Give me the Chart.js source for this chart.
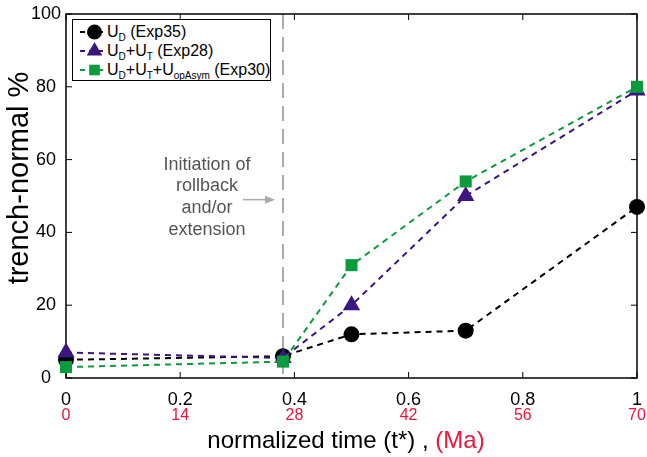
<!DOCTYPE html>
<html>
<head>
<meta charset="utf-8">
<script src="https://cdn.jsdelivr.net/npm/chart.js@4"></script>
<style>
    body { margin: 0; background: #fff; }
    #wrap { position: relative; width: 647px; height: 457px; font-family: "Liberation Sans", Arial, sans-serif; }
    #legend {
        position: absolute; left: 72px; top: 19px; width: 199px; height: 62px;
        border: 1.5px solid #000; background: #fff; font-size: 16px;
        padding-top: 2px; box-sizing: border-box;
    }
    #legend .row { position: relative; height: 19px; white-space: nowrap; }
    #legend .txt { position: absolute; left: 34px; top: 0; line-height: 19px; }
    #legend sub { font-size: 10px; vertical-align: -4px; line-height: 0; }
    #legend canvas { position: absolute; left: 7px; top: 0; }
    #xtitle { position: absolute; left: 0; width: 692px; top: 426px; text-align: center; font-size: 24px; }
</style>
</head>
<body>
<div id="wrap">
    <canvas id="chart" width="647" height="457"></canvas>
    <div id="legend"></div>
    <div id="xtitle">normalized time (t*) , <span style="color:#e8173c">(Ma)</span></div>
</div>
<script>
const tStar = [0, 0.38, 0.5, 0.7, 1];
const ageTicks = [0, 14, 28, 42, 56, 70];
const exp35 = [5, 6, 12, 13, 47];
const exp28 = [7, 5.5, 20, 50, 79];
const exp30 = [3, 4.5, 31, 54, 80];
const rollbackStart = 0.38;

const series = [
    { label: 'U<sub>D</sub> (Exp35)', data: exp35, color: '#000000', shape: 'circle', r: 8, lr: 7.5, order: 3 },
    { label: 'U<sub>D</sub>+U<sub>T</sub> (Exp28)', data: exp28, color: '#3b1580', shape: 'triangle', r: 10, lr: 9, order: 2 },
    { label: 'U<sub>D</sub>+U<sub>T</sub>+U<sub>opAsym</sub> (Exp30)', data: exp30, color: '#0a9b3c', shape: 'rect', r: 8.5, lr: 7.5, order: 1 }
];

const FONT = '"Liberation Sans", Arial, sans-serif';

const framePlugin = {
    id: 'frame',
    beforeDatasetsDraw(chart) {
        const { ctx, chartArea: a, scales: { x, y } } = chart;
        ctx.save();
        // rollback marker
        const vx = x.getPixelForValue(rollbackStart);
        ctx.strokeStyle = '#aaaaaa';
        ctx.lineWidth = 2;
        ctx.setLineDash([15, 8]);
        ctx.beginPath();
        ctx.moveTo(vx, a.top);
        ctx.lineTo(vx, a.bottom);
        ctx.stroke();
        ctx.setLineDash([]);

        // frame + inward ticks
        ctx.strokeStyle = '#000';
        ctx.lineWidth = 1.5;
        ctx.strokeRect(a.left, a.top, a.right - a.left, a.bottom - a.top);
        ctx.lineWidth = 1;
        x.ticks.forEach(t => {
            const px = x.getPixelForValue(t.value);
            ctx.beginPath();
            ctx.moveTo(px, a.bottom); ctx.lineTo(px, a.bottom - 6);
            ctx.moveTo(px, a.top); ctx.lineTo(px, a.top + 6);
            ctx.stroke();
        });
        y.ticks.forEach(t => {
            const py = y.getPixelForValue(t.value);
            ctx.beginPath();
            ctx.moveTo(a.left, py); ctx.lineTo(a.left + 6, py);
            ctx.moveTo(a.right, py); ctx.lineTo(a.right - 6, py);
            ctx.stroke();
        });

        // annotation
        ctx.fillStyle = '#555';
        ctx.font = '18px ' + FONT;
        ctx.textAlign = 'center';
        ctx.textBaseline = 'middle';
        const tx = x.getPixelForValue(0.247);
        ['Initiation of', 'rollback', 'and/or', 'extension'].forEach((s, i) => {
            ctx.fillText(s, tx, y.getPixelForValue(58.6) + i * 21.8);
        });
        const ay = y.getPixelForValue(49);
        const ax0 = x.getPixelForValue(0.31), ax1 = x.getPixelForValue(0.366);
        ctx.strokeStyle = '#aaaaaa';
        ctx.fillStyle = '#aaaaaa';
        ctx.lineWidth = 1.5;
        ctx.beginPath();
        ctx.moveTo(ax0, ay); ctx.lineTo(ax1 - 6, ay);
        ctx.stroke();
        ctx.beginPath();
        ctx.moveTo(ax1, ay); ctx.lineTo(ax1 - 10, ay - 4); ctx.lineTo(ax1 - 10, ay + 4);
        ctx.closePath();
        ctx.fill();

        // y title
        ctx.fillStyle = '#000';
        ctx.font = '29px ' + FONT;
        ctx.translate(20, (a.top + a.bottom) / 2 - 18);
        ctx.rotate(-Math.PI / 2);
        ctx.fillText('trench-normal %', 0, 0);
        ctx.restore();
    }
};

const datasets = series.map(s => ({
    label: s.label,
    data: tStar.map((t, i) => ({ x: t, y: s.data[i] })),
    borderColor: s.color,
    backgroundColor: s.color,
    pointBackgroundColor: s.color,
    pointBorderColor: s.color,
    pointStyle: s.shape,
    pointRadius: s.r,
    pointBorderWidth: 0,
    borderWidth: 2,
    borderDash: [6, 5],
    fill: false,
    clip: false,
    order: s.order
}));

new Chart(document.getElementById('chart'), {
    type: 'line',
    data: { datasets },
    plugins: [framePlugin],
    options: {
        responsive: false,
        animation: false,
        layout: { padding: { top: 14, right: 0, left: 6, bottom: 28 } },
        plugins: { legend: { display: false }, tooltip: { enabled: false } },
        scales: {
            x: {
                type: 'linear', position: 'bottom', min: 0, max: 1,
                grid: { display: false, drawTicks: false }, border: { display: false },
                afterFit: scale => { scale.height = 27; scale.paddingRight = 6; scale.paddingLeft = 0; },
                ticks: { stepSize: 0.2, color: '#000', padding: 11, maxRotation: 0,
                    callback: v => String(+v.toFixed(1)),
                    font: { size: 18, family: FONT } }
            },
            x2: {
                type: 'linear', position: 'bottom', min: 0, max: 70,
                grid: { display: false, drawTicks: false }, border: { display: false },
                afterFit: scale => { scale.height = 24; scale.paddingRight = 6; scale.paddingLeft = 0; },
                afterBuildTicks: scale => { scale.ticks = ageTicks.map(v => ({ value: v })); },
                ticks: { color: '#e8173c', padding: 1, maxRotation: 0,
                    font: { size: 16, family: FONT } }
            },
            y: {
                min: 0, max: 100,
                grid: { display: false, drawTicks: false }, border: { display: false },
                afterFit: scale => { scale.width = 60; scale.paddingTop = 0; scale.paddingBottom = 0; },
                ticks: { stepSize: 20, color: '#000', padding: 5, crossAlign: 'center',
                    font: { size: 18, family: FONT } }
            }
        }
    }
});

// legend with subscripts
const legend = document.getElementById('legend');
series.forEach(s => {
    const row = document.createElement('div');
    row.className = 'row';
    const c = document.createElement('canvas');
    c.width = 27; c.height = 19;
    const g = c.getContext('2d');
    g.strokeStyle = s.color; g.fillStyle = s.color; g.lineWidth = 2;
    g.setLineDash([5, 4]);
    g.beginPath(); g.moveTo(0, 10); g.lineTo(27, 10); g.stroke();
    Chart.helpers.drawPoint(g, { pointStyle: s.shape, radius: s.lr, borderWidth: 0 }, 14.5, 10);
    row.appendChild(c);
    const t = document.createElement('span');
    t.className = 'txt';
    t.innerHTML = s.label;
    row.appendChild(t);
    legend.appendChild(row);
});
</script>
</body>
</html>
